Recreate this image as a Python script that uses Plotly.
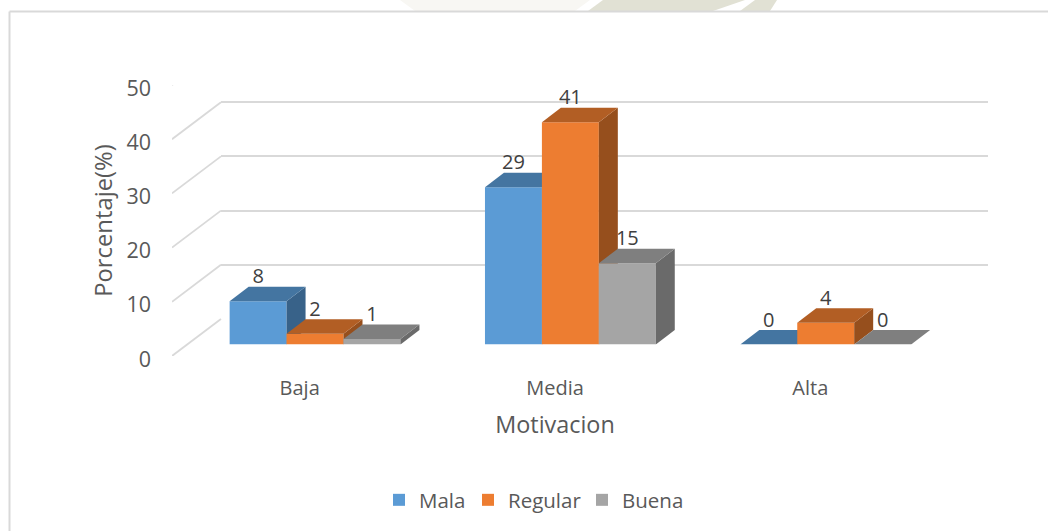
import plotly.graph_objects as go

W, H = 1048, 531

categories = ["Baja", "Media", "Alta"]
mala = [8, 29, 0]
regular = [2, 41, 4]
buena = [1, 15, 0]
y_ticks = [0, 10, 20, 30, 40, 50]

FONT = "Open Sans"
TEXT = "#595959"
GRID = "#d9d9d9"

# front, top and side shade of each series (Excel 3-D look)
SERIES = [
    ("Mala", mala, "#5b9bd5", "#4475a1", "#386289"),
    ("Regular", regular, "#ed7d31", "#b25e24", "#964f1d"),
    ("Buena", buena, "#a5a5a5", "#7f7f7f", "#6a6a6a"),
]

PX_PER_CAT = 255.6
PX_PER_UNIT = 5.42
BAR_W = 57 / PX_PER_CAT
BAR_SHIFT = 15.4 / PX_PER_CAT
DEPTH_X = 19 / PX_PER_CAT
DEPTH_Y = 14.5 / PX_PER_UNIT
LABEL_DROP = 1.5 / PX_PER_UNIT
WALL_X = 49 / PX_PER_CAT
WALL_Y = 37 / PX_PER_UNIT


def dom_x(left, right):
    return [left / W, right / W]


def dom_y(bottom, top):
    return [1 - bottom / H, 1 - top / H]


def paper_poly(points):
    # pixel points to a closed svg path in paper coords
    cmds = [f"{x / W},{1 - y / H}" for x, y in points]
    return "M" + " L".join(cmds) + " Z"


def legend_at(left):
    # one legend per series, the gaps between the entries are not even
    return {
        "orientation": "h", "xref": "container", "yref": "container",
        "x": left / W, "xanchor": "left", "y": 1 - 500 / H, "yanchor": "middle",
        "font": {"size": 20.5, "color": TEXT}, "bgcolor": "rgba(0,0,0,0)",
    }


fig = go.Figure()

# back wall gridlines live on x/y so they stay at the bottom
fig.add_trace(go.Scatter(x=[0], y=[0], xaxis="x", yaxis="y", mode="none",
                         showlegend=False, hoverinfo="skip"))

# diagonal part of each gridline, going from the tick to the back wall
for tick in y_ticks:
    fig.add_trace(go.Scatter(
        x=[-0.5, -0.5 + WALL_X],
        y=[tick, tick + WALL_Y],
        xaxis="x2", yaxis="y2", mode="lines",
        line={"color": GRID, "width": 1.8},
        showlegend=False, hoverinfo="skip", cliponaxis=False,
    ))

# one overlaying y axis per series so each bar covers the side of the one before
for s, (name, values, front, top, side) in enumerate(SERIES):
    yaxis = f"y{s + 3}"
    xs = [i + (s - 1) * BAR_W + BAR_SHIFT for i in range(len(values))]
    fig.add_trace(go.Bar(
        x=xs, y=values, width=BAR_W, name=name, marker={"color": front, "line": {"width": 0}},
        xaxis="x2", yaxis=yaxis, legend="legend" if s == 0 else f"legend{s + 1}",
    ))
    for x, v in zip(xs, values):
        l, r = x - BAR_W / 2, x + BAR_W / 2
        fig.add_trace(go.Scatter(
            x=[r, r + DEPTH_X, r + DEPTH_X, r, r],
            y=[0, DEPTH_Y, v + DEPTH_Y, v, 0],
            xaxis="x2", yaxis=yaxis, mode="lines", fill="toself", fillcolor=side,
            line={"width": 0}, showlegend=False, hoverinfo="skip", cliponaxis=False,
        ))
        fig.add_trace(go.Scatter(
            x=[l, r, r + DEPTH_X, l + DEPTH_X, l],
            y=[v, v, v + DEPTH_Y, v + DEPTH_Y, v],
            xaxis="x2", yaxis=yaxis, mode="lines", fill="toself", fillcolor=top,
            line={"width": 0}, showlegend=False, hoverinfo="skip", cliponaxis=False,
        ))
    fig.add_trace(go.Scatter(
        x=xs, y=[v + DEPTH_Y - LABEL_DROP for v in values], text=[str(v) for v in values],
        xaxis="x2", yaxis=yaxis, mode="text", textposition="top center",
        textfont={"family": FONT, "size": 20, "color": "#404040"},
        showlegend=False, hoverinfo="skip", cliponaxis=False,
    ))

fig.update_layout(
    width=W,
    height=H,
    margin={"l": 0, "r": 0, "t": 0, "b": 0, "autoexpand": False},
    autosize=False,
    paper_bgcolor="white",
    plot_bgcolor="rgba(0,0,0,0)",
    font={"family": FONT, "color": TEXT},
    barmode="overlay",
    showlegend=True,
    legend=legend_at(379),
    legend2=legend_at(468),
    legend3=legend_at(582),
    xaxis={"domain": dom_x(221, 988), "range": [-0.5, 2.5], "visible": False, "anchor": "y"},
    yaxis={
        "domain": dom_y(319, 48), "range": [0, 50], "anchor": "x", "tickvals": y_ticks,
        "showgrid": True, "gridcolor": GRID, "gridwidth": 1.8, "zeroline": False,
        "showticklabels": False, "ticks": "",
    },
    xaxis2={
        "domain": dom_x(172, 938), "range": [-0.5, 2.5], "anchor": "y2",
        "tickvals": [0, 1, 2], "ticktext": categories, "tickfont": {"size": 20, "color": TEXT},
        "showgrid": False, "zeroline": False, "showline": False, "ticks": "",
        "ticklabelstandoff": 18,
        "title": {"text": "Motivacion", "font": {"size": 23.4, "color": TEXT}, "standoff": 16},
    },
    yaxis2={
        "domain": dom_y(356, 85), "range": [0, 50], "anchor": "x2", "tickvals": y_ticks,
        "tickfont": {"size": 21.5, "color": TEXT}, "showgrid": False, "zeroline": False,
        "showline": False, "ticks": "", "ticklabelstandoff": 20, "ticklabelshift": 3,
        "title": {"text": "Porcentaje(%)", "font": {"size": 23.8, "color": TEXT}, "standoff": 7},
    },
    yaxis3={"domain": dom_y(344.5, 73.5), "range": [0, 50], "anchor": "x2", "visible": False},
    yaxis4={"range": [0, 50], "overlaying": "y3", "anchor": "x2", "visible": False},
    yaxis5={"range": [0, 50], "overlaying": "y3", "anchor": "x2", "visible": False},
    shapes=[
        # faint watermark showing above the chart frame
        {"type": "path", "xref": "paper", "yref": "paper", "layer": "below", "line": {"width": 0},
         "fillcolor": "#f8f7f3", "path": paper_poly([(400, 0), (590, 0), (575, 11), (415, 11)])},
        {"type": "path", "xref": "paper", "yref": "paper", "layer": "below", "line": {"width": 0},
         "fillcolor": "#e1e1d4", "path": paper_poly([(603, 0), (745, 0), (713, 11), (588, 11)])},
        {"type": "path", "xref": "paper", "yref": "paper", "layer": "below", "line": {"width": 0},
         "fillcolor": "#e1e1d4", "path": paper_poly([(755, 0), (777, 0), (770, 11), (740, 11)])},
        # only the top and left edge of the chart frame are in view
        {"type": "line", "xref": "paper", "yref": "paper", "x0": 9.5 / W, "x1": 1,
         "y0": 1 - 11.5 / H, "y1": 1 - 11.5 / H, "line": {"color": GRID, "width": 2}},
        {"type": "line", "xref": "paper", "yref": "paper", "x0": 9.5 / W, "x1": 9.5 / W,
         "y0": 0, "y1": 1 - 11.5 / H, "line": {"color": GRID, "width": 2}},
    ],
)

fig.write_html("out.html", config={"displayModeBar": False},
               post_script="document.body.style.margin = '0';")
